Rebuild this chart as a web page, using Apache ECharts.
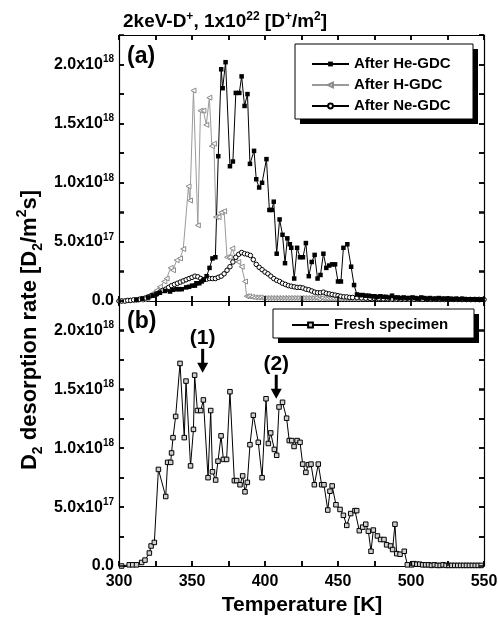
<!DOCTYPE html>
<html><head><meta charset="utf-8">
<script src="https://cdn.jsdelivr.net/npm/echarts/dist/echarts.min.js"></script>
<style>html,body{margin:0;padding:0;background:#fff}#c{width:498px;height:617px}</style>
</head><body><div id="c"></div>
<script>
const FONT = '"Liberation Sans", Arial, Helvetica, sans-serif';

// ---- data (T in K, rate in units of 1e18 D2/m2s) ----
const heT = [312,316,320,323,325.8,328,331.5,335,337,339.5,341,343,346,348,350,352,353,355,356.6,358,360,362,364,366,368,370,371,373,376,378,380,382.4,384,386,388,389.7,392.5,394,396,398,401,403,404.6,406,408,410,412,413.7,415.3,417,418,420,422,424,426,428,430,432,434,436,438,440,442,444,446,448,450,452,453.7,456.4,459,461,463,465,467,469,471,473,475,477,479,481,483,485,487,489,491,493,495,497,499,501,503,505,507,509,511,513,515,517,519,521,523,525,527,529,531,533,535,537,539,541,543,545,547,549];
const heV = [0.01,0.02,0.03,0.045,0.06,0.07,0.085,0.08,0.095,0.1,0.1,0.1,0.115,0.12,0.13,0.13,0.15,0.15,0.165,0.18,0.21,0.28,0.36,0.37,1.225,1.96,1.80,2.02,1.14,1.18,1.76,1.76,1.90,1.65,1.75,1.16,1.27,1.03,0.96,1.0,1.20,0.77,0.77,0.84,0.40,0.69,0.56,0.32,0.53,0.48,0.45,0.19,0.45,0.37,0.37,0.49,0.21,0.33,0.39,0.19,0.22,0.40,0.28,0.30,0.31,0.31,0.165,0.165,0.45,0.48,0.29,0.135,0.055,0.05,0.05,0.045,0.045,0.04,0.04,0.035,0.04,0.035,0.035,0.03,0.045,0.03,0.03,0.025,0.03,0.025,0.025,0.03,0.025,0.02,0.03,0.025,0.02,0.025,0.02,0.02,0.025,0.02,0.02,0.02,0.02,0.015,0.02,0.015,0.02,0.015,0.015,0.015,0.015,0.015,0.01,0.015];

const hT = [300,303,306,309,312,315,317,319,322,324,325.8,328,331,332.6,335.4,337,339.5,341.8,344,347.6,348.6,351,354,355.8,357.8,359.8,361.9,363.6,365,366.4,368.2,370,372,374,375.8,377.6,379.5,381.7,384,386.3,387.4,389,391,393,395,397,399,401,403,405,407,409,411,413,415,417,419,421,423,425,427,429,431,433,435,437,439,441,443,445,447,449,451,453,455,457,459,461,464,467,470,473,476,479,482,485,488,491,494,497,500,503,506,509,512,515,518,521,524,527,530,533,536,539,542,545,548];
const hV = [0,0,0.005,0.005,0.01,0.01,0.015,0.02,0.05,0.07,0.09,0.12,0.165,0.19,0.28,0.26,0.345,0.36,0.44,0.97,0.85,1.78,0.64,1.61,1.61,1.49,1.72,1.31,1.33,0.71,0.71,0.75,0.76,0.37,0.37,0.445,0.37,0.33,0.29,0.165,0.04,0.04,0.035,0.03,0.03,0.03,0.025,0.025,0.025,0.025,0.025,0.025,0.025,0.025,0.025,0.025,0.025,0.025,0.025,0.025,0.025,0.025,0.025,0.025,0.025,0.02,0.025,0.02,0.02,0.02,0.02,0.02,0.02,0.02,0.02,0.02,0.02,0.02,0.02,0.02,0.02,0.02,0.02,0.02,0.02,0.015,0.015,0.015,0.015,0.015,0.015,0.015,0.015,0.015,0.015,0.015,0.015,0.015,0.015,0.015,0.015,0.015,0.015,0.015,0.015,0.015,0.015];

const neT = [300,302,304,306,308,310,312,314,316,318,320,322,324,326,328,330,332,334,336,338,340,342,344,346,348,350,352,354,356,358,360,362,364,366,368,370,372,374,376,378,380,382,384,386,388,390,392,394,396,398,400,402,404,406,408,410,412,414,416,418,420,422,424,426,428,430,432,434,436,438,440,442,444,446,448,450,452,454,456,458,460,463,466,469,472,475,478,481,484,487,490,493,496,499,502,505,508,511,514,517,520,523,526,529,532,535,538,541,544,547,550];
const neV = [0,0,0,0.005,0.005,0.01,0.01,0.015,0.02,0.025,0.035,0.045,0.05,0.06,0.075,0.09,0.1,0.115,0.13,0.14,0.15,0.16,0.17,0.18,0.19,0.2,0.21,0.205,0.19,0.18,0.185,0.19,0.19,0.19,0.2,0.21,0.23,0.26,0.29,0.33,0.37,0.395,0.41,0.40,0.395,0.385,0.35,0.31,0.285,0.265,0.245,0.23,0.21,0.19,0.175,0.165,0.15,0.14,0.13,0.125,0.12,0.115,0.115,0.11,0.1,0.095,0.085,0.075,0.07,0.07,0.075,0.065,0.06,0.055,0.05,0.045,0.04,0.035,0.035,0.03,0.03,0.028,0.026,0.024,0.022,0.02,0.02,0.018,0.018,0.017,0.017,0.016,0.016,0.015,0.015,0.015,0.014,0.014,0.014,0.014,0.013,0.013,0.013,0.013,0.013,0.012,0.012,0.012,0.012,0.012,0.012];

const frT = [301.8,307,309.4,312,315.5,317.8,320.8,322,324.2,327,332,333.3,335.4,336,337,338.8,341.8,344.7,345.9,349,351,351.8,353.7,356,357.8,361,362.8,364,366.2,367.8,369.9,371.5,373.7,376,379,380.6,382.9,384.7,386.3,387.9,389.7,392,395.4,398,400.7,402.3,403.9,406.4,408,409.6,412,414.8,416.6,418.3,419.9,422,424,425.8,428,429.7,431.5,433.8,436.5,438.8,440.4,443,444.5,446,448.6,451.4,453.7,456,458.7,461.6,462.8,464.6,466.9,469,470.8,472.6,474.2,477,479.2,481.5,483.3,486,487.4,489,490.2,492.5,495.4,497.5,500.5,502,504,506,508,510,512,514,516,518,520,522,524,526,528,530,532,534,536,538,540,542,544,546,548,550];
const frV = [0,0.01,0.01,0.01,0.03,0.05,0.11,0.17,0.2,0.82,0.59,0.88,0.88,0.96,1.09,1.27,1.72,1.09,1.57,0.85,1.16,1.62,1.32,1.32,1.41,0.75,1.32,0.80,0.73,0.89,1.105,0.905,0.905,1.48,0.725,0.725,0.69,0.765,0.63,0.71,1.03,1.28,1.05,0.75,1.42,1.04,1.13,0.99,0.94,1.35,1.39,1.255,1.065,1.065,1.015,1.065,1.05,0.865,0.795,0.86,0.865,0.69,0.865,0.69,0.69,0.475,0.635,0.68,0.52,0.48,0.43,0.345,0.445,0.47,0.47,0.30,0.33,0.355,0.295,0.125,0.305,0.255,0.225,0.225,0.18,0.17,0.14,0.355,0.105,0.10,0.125,0.01,0.01,0.02,0.015,0.015,0.01,0.01,0.01,0.005,0.01,0.005,0.005,0.01,0.005,0.005,0.005,0.005,0.005,0.005,0.005,0.005,0.005,0.005,0.005,0.005,0.005];

const xMin = 300, xMax = 550, xStep = 25, xLabelStep = 50;
const yMin = 0, yMax = 2.25, yStep = 0.25, yLabelStep = 0.5;

const pairs = (a, b) => a.map((t, i) => [t, b[i]]);

const rich = {
  n: {fontSize: 16, fontWeight: 'bold', fontFamily: FONT, color: '#000', lineHeight: 20, verticalAlign: 'middle'},
  s: {fontSize: 10, fontWeight: 'bold', fontFamily: FONT, color: '#000', lineHeight: 10, verticalAlign: 'top'}
};
function yFmt(v) {
  const k = Math.round(v / yStep);
  if (k % 2) return '';
  if (k === 0) return '{n|0.0}';
  const e = Math.floor(Math.log10(v) + 1e-9) + 18;
  const m = v * 1e18 / Math.pow(10, e);
  return '{n|' + m.toFixed(1) + 'x10}{s|' + e + '}';
}
function xFmt(v) { return (Math.round(v) % xLabelStep === 0) ? String(v) : ''; }

const TICK_LEN = 5;
function xa(grid, pos, labels) {
  return {type: 'value', gridIndex: grid, position: pos, min: xMin, max: xMax, interval: xStep,
    axisLine: {show: true, onZero: false, lineStyle: {color: '#000', width: 1.2}},
    axisTick: {show: true, inside: true, length: TICK_LEN, lineStyle: {color: '#000', width: 1.5}},
    splitLine: {show: false},
    axisLabel: labels ? {show: true, formatter: xFmt, fontSize: 16, fontWeight: 'bold', fontFamily: FONT, color: '#000', margin: 8} : {show: false}};
}
function ya(grid, pos, labels) {
  return {type: 'value', gridIndex: grid, position: pos, min: yMin, max: yMax, interval: yStep,
    axisLine: {show: true, onZero: false, lineStyle: {color: '#000', width: 1.2}},
    axisTick: {show: true, inside: true, length: TICK_LEN, lineStyle: {color: '#000', width: 1.5}},
    splitLine: {show: false},
    axisLabel: labels ? {show: true, formatter: yFmt, rich: rich, margin: 5, showMaxLabel: false} : {show: false}};
}

const chart = echarts.init(document.getElementById('c'), null, {renderer: 'canvas'});
const option = {
  backgroundColor: '#fff',
  animation: false,
  grid: [
    {left: 119, right: 14, top: 35, height: 266, outerBoundsMode: 'none'},
    {left: 119, right: 14, top: 301, height: 265, outerBoundsMode: 'none'}
  ],
  xAxis: [xa(0, 'bottom', false), xa(0, 'top', false), xa(1, 'bottom', true), xa(1, 'top', false)],
  yAxis: [ya(0, 'left', true), ya(0, 'right', false), ya(1, 'left', true), ya(1, 'right', false)],
  legend: [
    {data: ['After He-GDC', 'After H-GDC', 'After Ne-GDC'], orient: 'vertical', left: 311, top: 55,
     itemWidth: 37, itemHeight: 6, itemGap: 3, selectedMode: false, padding: 0, z: 10,
     textStyle: {fontSize: 15, fontWeight: 'bold', fontFamily: FONT, color: '#000', lineHeight: 18}},
    {data: ['Fresh specimen'], orient: 'vertical', left: 291, top: 316,
     itemWidth: 37, itemHeight: 6, selectedMode: false, padding: 0, z: 10,
     textStyle: {fontSize: 15, fontWeight: 'bold', fontFamily: FONT, color: '#000', lineHeight: 18}}
  ],
  series: [
    {name: 'After H-GDC', type: 'line', xAxisIndex: 0, yAxisIndex: 0, data: pairs(hT, hV),
     symbol: 'triangle', symbolRotate: 90, symbolSize: 5, showAllSymbol: true,
     lineStyle: {color: '#9a9a9a', width: 1}, itemStyle: {color: '#fff', borderColor: '#8a8a8a', borderWidth: 1}},
    {name: 'After Ne-GDC', type: 'line', xAxisIndex: 0, yAxisIndex: 0, data: pairs(neT, neV),
     symbol: 'circle', symbolSize: 4.5, showAllSymbol: true,
     lineStyle: {color: '#000', width: 1}, itemStyle: {color: '#fff', borderColor: '#000', borderWidth: 1}},
    {name: 'After He-GDC', type: 'line', xAxisIndex: 0, yAxisIndex: 0, data: pairs(heT, heV),
     symbol: 'rect', symbolSize: 4.5, showAllSymbol: true,
     lineStyle: {color: '#000', width: 1}, itemStyle: {color: '#000', borderColor: '#000', borderWidth: 0}},
    {name: 'Fresh specimen', type: 'line', xAxisIndex: 2, yAxisIndex: 2, data: pairs(frT, frV),
     symbol: 'rect', symbolSize: 4.5, showAllSymbol: true,
     lineStyle: {color: '#000', width: 1}, itemStyle: {color: '#d0d0d0', borderColor: '#000', borderWidth: 1}}
  ]
};
chart.setOption(option);

const arrows = [
  {label: '(1)', t: 357.3, v: 1.64},
  {label: '(2)', t: 407.7, v: 1.42}
];
const g = [];
// frame ticks (inside, all four sides of each panel), placed through the axes' own scales
[[0, 0], [2, 2]].forEach(([xi, yi]) => {
  const px = (t, v) => chart.convertToPixel({xAxisIndex: xi, yAxisIndex: yi}, [t, v]);
  const yB = px(xMin, yMin)[1], yT = px(xMin, yMax)[1];
  const xL = px(xMin, yMin)[0], xR = px(xMax, yMin)[0];
  for (let t = xMin; t <= xMax + 1e-9; t += xStep) {
    const x = Math.round(px(t, yMin)[0]);
    g.push({type: 'line', z: 30, silent: true, shape: {x1: x, y1: yB, x2: x, y2: yB - TICK_LEN}, style: {stroke: '#000', lineWidth: 1.5}});
    g.push({type: 'line', z: 30, silent: true, shape: {x1: x, y1: yT, x2: x, y2: yT + TICK_LEN}, style: {stroke: '#000', lineWidth: 1.5}});
  }
  for (let v = yMin; v <= yMax + 1e-9; v += yStep) {
    const y = Math.round(px(xMin, v)[1]);
    g.push({type: 'line', z: 30, silent: true, shape: {x1: xL, y1: y, x2: xL + TICK_LEN, y2: y}, style: {stroke: '#000', lineWidth: 1.5}});
    g.push({type: 'line', z: 30, silent: true, shape: {x1: xR, y1: y, x2: xR - TICK_LEN, y2: y}, style: {stroke: '#000', lineWidth: 1.5}});
  }
});
g.push({type: 'text', x: 30, y: 330, rotation: Math.PI / 2, z: 20,
  style: {text: '{n|D}{b|2}{n| desorption rate [D}{b|2}{n|/m}{t|2}{n|s]}', align: 'center', verticalAlign: 'middle',
    rich: {
      n: {fontSize: 22, fontWeight: 'bold', fontFamily: FONT, fill: '#000', lineHeight: 30, verticalAlign: 'middle'},
      b: {fontSize: 14, fontWeight: 'bold', fontFamily: FONT, fill: '#000', lineHeight: 15, verticalAlign: 'bottom'},
      t: {fontSize: 14, fontWeight: 'bold', fontFamily: FONT, fill: '#000', lineHeight: 15, verticalAlign: 'top'}
    }}});
g.push({type: 'text', x: 302, y: 605, z: 20,
  style: {text: 'Temperature [K]', align: 'center', verticalAlign: 'middle', fontSize: 21, fontWeight: 'bold', fontFamily: FONT, fill: '#000'}});
g.push({type: 'text', x: 123, y: 22, z: 20,
  style: {text: '{n|2keV-D}{t|+}{n|, 1x10}{t|22}{n| [D}{t|+}{n|/m}{t|2}{n|]}', align: 'left', verticalAlign: 'middle',
    rich: {
      n: {fontSize: 19, fontWeight: 'bold', fontFamily: FONT, fill: '#000', lineHeight: 22, verticalAlign: 'middle'},
      t: {fontSize: 12, fontWeight: 'bold', fontFamily: FONT, fill: '#000', lineHeight: 11, verticalAlign: 'top'}
    }}});
g.push({type: 'text', x: 127, y: 57, z: 20, style: {text: '(a)', align: 'left', verticalAlign: 'middle', fontSize: 23, fontWeight: 'bold', fontFamily: FONT, fill: '#000'}});
g.push({type: 'text', x: 127, y: 322, z: 20, style: {text: '(b)', align: 'left', verticalAlign: 'middle', fontSize: 23, fontWeight: 'bold', fontFamily: FONT, fill: '#000'}});
g.push({type: 'rect', z: 5, shape: {x: 300, y: 49, width: 178, height: 75}, style: {fill: '#000'}});
g.push({type: 'rect', z: 6, shape: {x: 295, y: 44, width: 178, height: 75}, style: {fill: '#fff', stroke: '#000', lineWidth: 1}});
g.push({type: 'rect', z: 5, shape: {x: 278, y: 314, width: 201, height: 29}, style: {fill: '#000'}});
g.push({type: 'rect', z: 6, shape: {x: 273, y: 309, width: 201, height: 29}, style: {fill: '#fff', stroke: '#000', lineWidth: 1}});
arrows.forEach(a => {
  const p = chart.convertToPixel({xAxisIndex: 2, yAxisIndex: 2}, [a.t, a.v]);
  const x = p[0], y = p[1];
  g.push({type: 'line', z: 20, shape: {x1: x, y1: y - 24, x2: x, y2: y - 8}, style: {stroke: '#000', lineWidth: 3}});
  g.push({type: 'polygon', z: 20, shape: {points: [[x - 5.5, y - 10], [x + 5.5, y - 10], [x, y]]}, style: {fill: '#000'}});
  g.push({type: 'text', z: 20, x: x, y: y - 35, style: {text: a.label, align: 'center', verticalAlign: 'middle', fontSize: 21, fontWeight: 'bold', fontFamily: FONT, fill: '#000'}});
});
chart.setOption({graphic: g});
</script>
</body></html>
